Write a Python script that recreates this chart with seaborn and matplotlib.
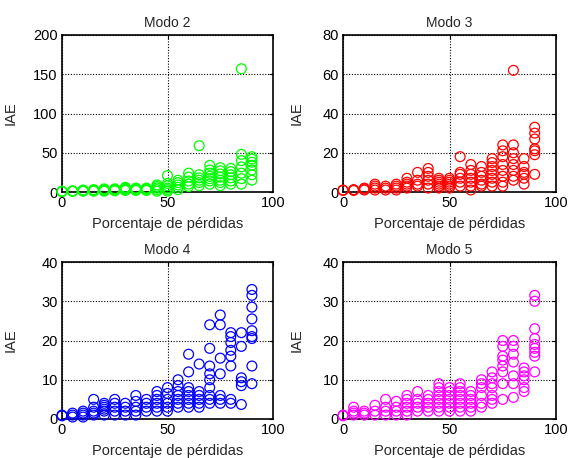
import numpy as np
import pandas as pd
import seaborn as sns
import matplotlib
matplotlib.use("Agg")
import matplotlib.pyplot as plt

# Porcentaje de pérdidas (x) compartido por los cuatro modos
porcentaje = [0, 5, 10, 15, 20, 25, 30, 35, 40, 45, 50, 55, 60, 65, 70, 75, 80, 85, 90]

# IAE, una lista por cada porcentaje
iae_modo2 = [
    [0.5, 1, 0.8], [0.8, 1.2, 1.5], [1, 1.5, 2, 2.5], [1, 2, 3, 2.5],
    [1, 2, 3, 4], [1.5, 2.5, 3.5, 4], [2, 3, 4, 5, 6], [2, 3, 4, 5],
    [2, 3, 4, 5], [1, 3, 5, 7, 9], [1, 3, 5, 8, 11, 21], [3, 6, 9, 12, 15],
    [7, 10, 14, 19, 24], [8, 12, 15, 18, 22, 59], [10, 14, 17, 20, 24, 28, 34],
    [8, 12, 15, 19, 23, 27, 31], [10, 14, 18, 22, 26, 30],
    [10, 17, 24, 32, 40, 48, 157], [15, 22, 28, 34, 38, 42, 45],
]
iae_modo3 = [
    [1, 0.8], [1, 1.2, 0.8], [1, 1.5, 2], [1, 2, 3, 4], [1, 2, 3],
    [1, 2, 3, 4], [2, 3, 4, 5, 7], [3, 4, 6, 10], [2, 4, 6, 8, 10, 12],
    [2, 3, 4, 5, 6, 7], [2, 3, 4, 5, 6, 7], [3, 5, 7, 9, 10, 18],
    [1, 3, 5, 7, 9, 11, 14], [3, 4, 6, 8, 10, 13], [3, 5, 7, 9, 11, 13, 15, 17],
    [3, 5, 8, 11, 14, 18, 21, 24], [6, 8, 11, 14, 17, 20, 24, 62],
    [4, 7, 9, 10, 13, 17], [9, 19, 21, 22, 27, 30, 33],
]
iae_modo4 = [
    [1, 0.8], [0.5, 1, 1.5], [0.5, 1, 1.5, 2], [1, 1.5, 2, 3, 5],
    [1, 2, 2.5, 3, 3.5, 4], [1, 2, 3, 4, 5], [1, 2, 3, 4], [1, 2, 3, 4.5, 6],
    [2, 3, 4, 5], [2, 3, 4, 5, 6, 7], [2, 3, 4, 5, 6.5, 8],
    [3, 4, 5, 6, 7, 8.5, 10], [3, 4, 5, 6, 7, 8, 12, 16.5], [3, 4, 5, 6, 7, 14],
    [4, 5, 6, 8, 10, 11.5, 13.5, 18, 24], [4, 5, 6, 11.5, 15.5, 24, 26.5],
    [4, 5, 13.5, 16, 17.5, 19.5, 21, 22], [3.7, 8.5, 9.5, 10.5, 18.5, 22],
    [9, 13.5, 20.5, 21, 22.5, 25.5, 28.5, 31.5, 33],
]
iae_modo5 = [
    [1, 0.8], [1, 1.5, 2, 3], [1, 1.5, 2], [1, 2, 3.5], [1, 2, 3, 5],
    [1, 2, 3, 4.5], [1, 2, 3, 4, 5, 6], [2, 3, 4, 5, 7], [2, 3, 4, 5, 6],
    [2, 3, 4, 5, 6, 7, 8, 9], [2, 3, 4, 5, 6, 7, 8], [2, 3, 4, 5, 6, 7, 8, 9],
    [2, 3, 4, 5, 6, 7], [3, 4, 6, 8, 9, 10], [4, 5, 6, 8, 9, 10.5, 12],
    [5, 9, 12, 13.5, 15, 16, 18.5, 20], [5.5, 9, 11, 14.5, 16.5, 18.5, 20],
    [7, 8, 10, 11, 12, 13], [12, 16, 17, 18, 19, 20.5, 23, 30, 31.5],
]

titulos = ["Modo 2", "Modo 3", "Modo 4", "Modo 5"]
colores = ["#00ff00", "#ff0000", "#0000ff", "#ff00ff"]
ylims = [200, 80, 40, 40]
yticks = [[0, 50, 100, 150, 200], [0, 20, 40, 60, 80], [0, 10, 20, 30, 40], [0, 10, 20, 30, 40]]


def a_tabla(valores):
    filas = [(p, v) for p, vs in zip(porcentaje, valores) for v in vs]
    return pd.DataFrame(filas, columns=["pct", "iae"])


sns.set_style("white")
plt.rcParams["font.family"] = ["Liberation Sans", "DejaVu Sans"]
plt.rcParams["font.size"] = 10

fig = plt.figure(figsize=(5.71, 4.58), dpi=100)
W, H = 571, 458
cajas = [(62, 35, 211, 157), (343, 35, 213, 157), (62, 262, 211, 157), (343, 262, 213, 157)]

for datos, titulo, color, ymax, yt, (l, t, w, h) in zip(
        [iae_modo2, iae_modo3, iae_modo4, iae_modo5], titulos, colores, ylims, yticks, cajas):
    ax = fig.add_axes([l / W, 1 - (t + h) / H, w / W, h / H])
    df = a_tabla(datos)
    sns.scatterplot(data=df, x="pct", y="iae", ax=ax, marker="o", s=50,
                    color=color, facecolor="none", edgecolor=color,
                    linewidth=0.9, clip_on=False, zorder=3)
    ax.set_xlim(0, 100)
    ax.set_ylim(0, ymax)
    ax.set_xticks([0, 50, 100])
    ax.set_yticks(yt)
    ax.grid(True, linestyle=(0, (1, 1.5)), color="k", linewidth=0.8)
    ax.set_axisbelow(True)
    for sp in ax.spines.values():
        sp.set_color("k")
        sp.set_linewidth(1.2)
    ax.tick_params(direction="in", length=3, width=0.8, colors="k",
                   top=True, right=True, labelsize=10.5, pad=3)
    ax.set_title(titulo, fontsize=10, pad=6)
    ax.set_xlabel("Porcentaje de pérdidas", fontsize=10.5, labelpad=5)
    ax.set_ylabel("IAE", fontsize=10.5)
    # posición fija de la etiqueta IAE, como en el original
    ax.yaxis.set_label_coords((18 - l) / w if l < 100 else (304 - l) / w, 0.5)

fig.savefig("out.png", dpi=100)
